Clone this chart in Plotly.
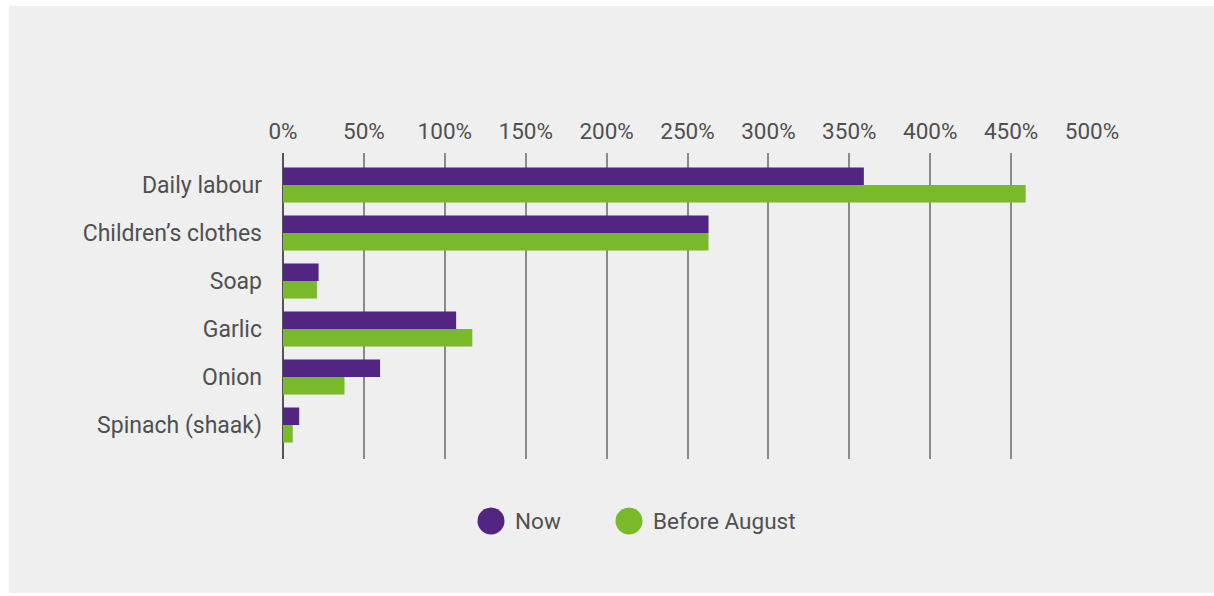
import plotly.graph_objects as go

# Price change by item, percent
categories = ["Daily labour", "Children\u2019s clothes", "Soap", "Garlic", "Onion", "Spinach (shaak)"]
now_values = [359, 263, 22, 107, 60, 10]
before_values = [459, 263, 21, 117, 38, 6]
series_names = ["Now", "Before August"]
tick_values = [0, 50, 100, 150, 200, 250, 300, 350, 400, 450, 500]
tick_labels = [f"{v}%" for v in tick_values]

PURPLE = "#522583"
GREEN = "#7ab92a"
PANEL = "#efefef"
TEXT = "#505050"
FONT = "Roboto"

W, H = 1214, 596
L, R, T, B = 283, 122, 153, 137
pw, ph = W - L - R, H - T - B


def px_x(x):
    return (x - L) / pw


def px_y(y):
    return 1 - (y - T) / ph


fig = go.Figure()
fig.add_trace(go.Bar(y=categories, x=now_values, orientation="h", name=series_names[0],
                     marker=dict(color=PURPLE, line=dict(width=0)), showlegend=False))
fig.add_trace(go.Bar(y=categories, x=before_values, orientation="h", name=series_names[1],
                     marker=dict(color=GREEN, line=dict(width=0)), showlegend=False))

shapes = [
    # light panel behind the chart
    dict(type="rect", xref="paper", yref="paper", layer="below",
         x0=px_x(9), x1=px_x(1214), y0=px_y(593), y1=px_y(6),
         fillcolor=PANEL, line=dict(width=0)),
]
annotations = []

# legend drawn as large dots with labels
legend_items = [(series_names[0], PURPLE, 491), (series_names[1], GREEN, 629)]
for name, color, cx in legend_items:
    r = 13.5
    cy = 521
    shapes.append(dict(type="circle", xref="paper", yref="paper",
                       x0=px_x(cx - r), x1=px_x(cx + r), y0=px_y(cy + r), y1=px_y(cy - r),
                       fillcolor=color, line=dict(width=0)))
    annotations.append(dict(xref="paper", yref="paper", x=px_x(cx + r + 8), y=px_y(cy),
                            xanchor="left", yanchor="middle", showarrow=False,
                            text=name, font=dict(family=FONT, size=22.5, color=TEXT)))

fig.update_layout(
    width=W, height=H,
    margin=dict(l=L, r=R, t=T, b=B, pad=0),
    paper_bgcolor="white",
    plot_bgcolor="rgba(0,0,0,0)",
    barmode="group",
    bargap=0.27,
    bargroupgap=0,
    showlegend=False,
    shapes=shapes,
    annotations=annotations,
    font=dict(family=FONT, color=TEXT),
    xaxis=dict(
        side="top", range=[0, 500], tickvals=tick_values, ticktext=tick_labels,
        showgrid=True, gridcolor="#8a8a8a", gridwidth=1.5,
        zeroline=True, zerolinecolor="#555555", zerolinewidth=2,
        ticks="", ticklabelstandoff=9, showline=False,
        tickfont=dict(family=FONT, size=22.5, color=TEXT), fixedrange=True,
    ),
    yaxis=dict(
        autorange=False, range=[5.708, -0.667], ticks="", showgrid=False,
        zeroline=False, showline=False, ticklabelstandoff=20,
        tickfont=dict(family=FONT, size=23, color=TEXT), fixedrange=True,
    ),
)

fig.write_html("out.html")
